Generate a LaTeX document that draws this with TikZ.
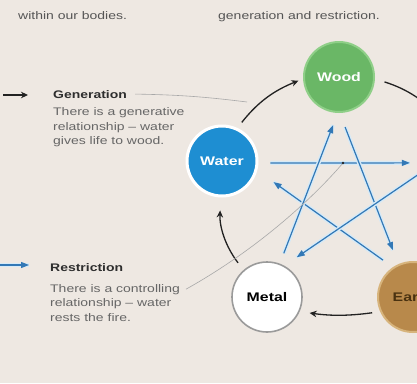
\documentclass[tikz,border=0pt]{standalone}
\usepackage{fontspec}
\setmainfont{Liberation Sans}
\newfontfamily\widefont[FakeStretch=1.27]{Liberation Sans}
\usetikzlibrary{arrows.meta}
\definecolor{bg}{HTML}{EEE8E2}
\definecolor{woodfill}{HTML}{6AB766}
\definecolor{woodrim}{HTML}{8FCF88}
\definecolor{waterfill}{HTML}{1E8ED2}
\definecolor{metalrim}{HTML}{9A9A9A}
\definecolor{earthfill}{HTML}{B8894B}
\definecolor{earthrim}{HTML}{D7B47C}
\definecolor{earthtext}{HTML}{4A3210}
\definecolor{genblack}{HTML}{222222}
\definecolor{resblue}{HTML}{3278B6}
\definecolor{glow}{HTML}{D6EAF7}
\definecolor{titlegrey}{HTML}{2E2E2E}
\definecolor{bodygrey}{HTML}{666666}
\definecolor{topgrey}{HTML}{555555}
\definecolor{leadergrey}{HTML}{A8A8A8}
\tikzset{
  elem/.style={circle, minimum size=70pt, inner sep=0pt,
    font=\widefont\bfseries\fontsize{12.5}{12.5}\selectfont},
  gen/.style={draw=genblack, line width=1.3pt, -{Stealth[length=7pt,width=6.5pt]}},
  res/.style={draw=resblue, line width=1.2pt, -{Triangle[length=8pt,width=6pt]},
    preaction={draw=glow, line width=4pt, -}},
  leader/.style={draw=leadergrey, line width=0.6pt},
  ttl/.style={anchor=base west, inner sep=0pt, text=titlegrey,
    font=\widefont\bfseries\fontsize{11}{13}\selectfont},
  body/.style={anchor=base west, inner sep=0pt, text=bodygrey,
    font=\widefont\fontsize{11}{13}\selectfont},
  toptext/.style={anchor=base west, inner sep=0pt, text=topgrey,
    font=\widefont\fontsize{11}{13}\selectfont}
}
\begin{document}
\begin{tikzpicture}[x=1pt,y=-1pt]
\fill[bg] (0,0) rectangle (417,383);
\useasboundingbox (0,0) rectangle (417,383);
\clip (0,0) rectangle (417,383);

% top texts
\node[toptext] (top1) at (18,19) {within our bodies.};
\node[toptext] (top2) at (218,19) {generation and restriction.};

% elements
\node[elem, fill=woodfill, draw=woodrim, line width=2pt, text=white] (wood) at (339,77) {Wood};
\node[elem, fill=waterfill, draw=white, line width=3pt, text=white] (water) at (222,161) {Water};
\node[elem, fill=white, draw=metalrim, line width=1.6pt, text=black] (metal) at (267,297) {Metal};
\node[elem, fill=earthfill, draw=earthrim, line width=2pt, text=earthtext] (earth) at (413,297) {Earth};
\node[circle, minimum size=72pt, inner sep=0pt] (fire) at (454,161) {};

% restriction (blue) lines
\draw[res, shorten <=12pt, shorten >=8pt] (water.-3) -- (fire.183);
\draw[res, shorten <=15pt, shorten >=15pt] (wood.-89) -- (earth.114);
\draw[res, shorten <=12pt, shorten >=20pt] (earth.124) -- (water.-15);
\draw[res, shorten <=11pt, shorten >=13pt] (metal.69) -- (wood.-92);
\draw[res, shorten >=15pt] (fire.200) -- (metal.61);

% generation (black) arcs
\draw[gen, shorten <=7pt, shorten >=5pt] (water.65) to[bend left=15] (wood.183);
\draw[gen, shorten <=10pt] (wood.-3) to[bend left=15] (fire.100);
\draw[gen, shorten <=8pt, shorten >=10pt] (earth.204) to[bend left=8] (metal.-24);
\draw[gen, shorten <=9pt, shorten >=13pt] (metal.131) to[bend left=20] (water.-92);

% legend: generation
\coordinate (lgAs) at (3,95);
\coordinate (lgAe) at (28,95);
\draw[gen] (lgAs) -- (lgAe);
\node[ttl] (gentitle) at (53,98) {Generation};
\node[body] (gen1) at (53,115.5) {There is a generative};
\node[body] (gen2) at (53,130) {relationship – water};
\node[body] (gen3) at (53,144) {gives life to wood.};
\coordinate (genpt) at (247,102);
\draw[leader] ([xshift=8pt]gentitle.east) to[bend left=3] (genpt);

% legend: restriction
\coordinate (lgBs) at (0,265);
\coordinate (lgBe) at (29,265);
\draw[res] (lgBs) -- (lgBe);
\node[ttl] (restitle) at (50,271) {Restriction};
\node[body] (res1) at (50,292) {There is a controlling};
\node[body] (res2) at (50,306.5) {relationship – water};
\node[body] (res3) at (50,321) {rests the fire.};
\coordinate (respt) at (343,163);
\draw[leader] ([xshift=6pt]res1.east) .. controls (265,245) and (320,190) .. (respt);
\fill[genblack] (respt) circle (1.4pt);
\end{tikzpicture}
\end{document}
